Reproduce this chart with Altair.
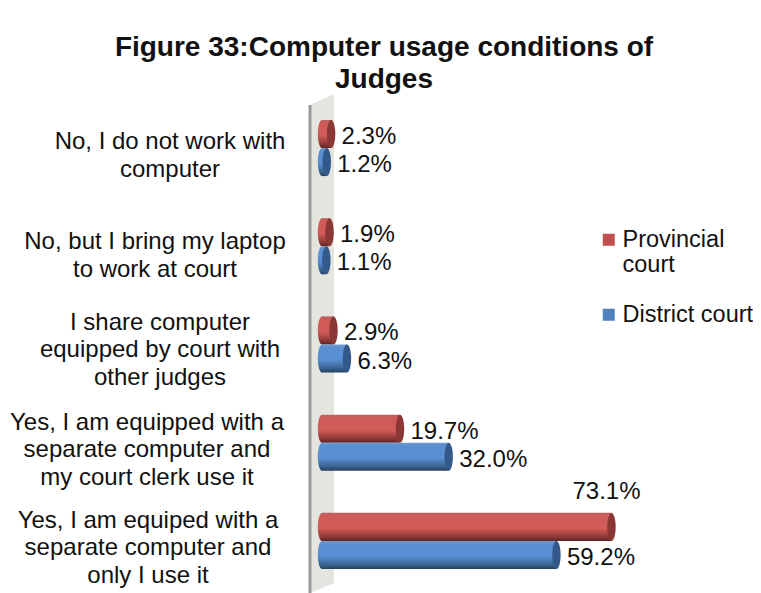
import altair as alt
import pandas as pd

title_lines = ["Figure 33:Computer usage conditions of", "Judges"]
categories = [
    "No, I do not work with|computer",
    "No, but I bring my laptop|to work at court",
    "I share computer|equipped by court with|other judges",
    "Yes, I am equipped with a|separate computer and|my court clerk use it",
    "Yes, I am equiped with a|separate computer and|only I use it",
]
series = ["Provincial court", "District court"]
provincial = [2.3, 1.9, 2.9, 19.7, 73.1]
district = [1.2, 1.1, 6.3, 32.0, 59.2]
wall_x = [-3.03, 3.03]
wall_top = [11, 0]
wall_bottom = [499, 489]

FONT = "Liberation Sans"
rows = []
for i, c in enumerate(categories):
    rows.append({"category": c, "series": series[0], "value": provincial[i]})
    rows.append({"category": c, "series": series[1], "value": district[i]})
df = pd.DataFrame(rows)
df["label"] = df["value"].map(lambda v: f"{v:.1f}%")
df["zero"] = 0
wall_df = pd.DataFrame({"x": wall_x, "top": wall_top, "bottom": wall_bottom})

x_scale = alt.Scale(domain=[-3.03, 82.83], nice=False, zero=False)
y_scale = alt.Scale(domain=categories, paddingInner=0, paddingOuter=0.04, align=0.625)
y_enc = alt.Y("category:N", sort=categories, scale=y_scale, axis=None)
yoff = alt.YOffset("series:N", sort=series, scale=alt.Scale(domain=series, paddingInner=0, paddingOuter=0.75))


def grad(stops):
    return alt.LinearGradient(
        gradient="linear", x1=0, y1=0, x2=0, y2=1,
        stops=[alt.GradientStop(color=c, offset=o) for o, c in stops],
    )


red = grad([(0, "#b9625f"), (0.12, "#cf5a57"), (0.55, "#d25c58"), (0.85, "#8f3a38"), (1, "#5e2422")])
blue = grad([(0, "#6f9bd0"), (0.12, "#5a8fd2"), (0.55, "#588fd3"), (0.85, "#3a628f"), (1, "#25405f")])
caps = {series[0]: "#8a3735", series[1]: "#33598a"}
grads = {series[0]: red, series[1]: blue}
ELL = "M0,-1A0.3,1,0,1,1,0,1A0.3,1,0,1,1,0,-1Z"

X_VAL = alt.X("value:Q", scale=x_scale, axis=None)
X_ZERO = alt.X("zero:Q", scale=x_scale, axis=None)
wall_y = alt.Y("top:Q", scale=alt.Scale(domain=[0, 499], reverse=True, nice=False, zero=False), axis=None)

base = alt.Chart(df)
wall_base = alt.Chart(wall_df)
wall = wall_base.mark_area(color="#e4e5df", orient="vertical").encode(
    x=alt.X("x:Q", scale=x_scale, axis=None), y=wall_y, y2="bottom:Q"
)
edge = wall_base.transform_filter("datum.x < 0").mark_rule(color="#9a9a9a", strokeWidth=3).encode(
    x=alt.X("x:Q", scale=x_scale, axis=None), y=wall_y, y2="bottom:Q"
)

layers = [wall, edge]
for s in series:
    b = base.transform_filter(alt.datum.series == s)
    layers.append(b.mark_point(shape=ELL, size=784, filled=True, opacity=1, color=grads[s], strokeWidth=0).encode(
        x=X_ZERO, y=y_enc, yOffset=yoff))
    layers.append(b.mark_bar(color=grads[s]).encode(
        x=X_VAL, x2="zero:Q", y=y_enc, yOffset=yoff))
    layers.append(b.mark_point(shape=ELL, size=784, filled=True, opacity=1, color=caps[s], strokeWidth=0).encode(
        x=X_VAL, y=y_enc, yOffset=yoff))

near = base.transform_filter("datum.value < 70").mark_text(
    font=FONT, fontSize=24, color="#111111", align="left", baseline="middle", dx=10.5, dy=3
).encode(x=X_VAL, y=y_enc, yOffset=yoff, text="label:N")
far = base.transform_filter("datum.value >= 70").mark_text(
    font=FONT, fontSize=24, color="#111111", align="left", baseline="middle", dx=-39, dy=-35
).encode(x=X_VAL, y=y_enc, yOffset=yoff, text="label:N")

# Category labels: centred text blocks, each block's right edge near the wall
label_centres = dict(zip(categories, [170, 155, 160, 147, 148]))
label_shift = dict(zip(categories, [-14, -14, -33, -33, -35]))
cat_layers = []
for c in categories:
    cat_layers.append(
        base.transform_filter(alt.FieldEqualPredicate(field="category", equal=c))
        .transform_filter(alt.datum.series == series[0])
        .mark_text(font=FONT, fontSize=24, color="#111111", align="center", baseline="middle",
                   lineBreak="|", lineHeight=27.5, dy=label_shift[c])
        .encode(x=alt.value(label_centres[c] - 310), y=y_enc, text="category:N")
    )

legend_layer = base.mark_square(opacity=0, size=144).encode(
    x=X_VAL,
    y=y_enc,
    color=alt.Color(
        "series:N",
        sort=series,
        scale=alt.Scale(domain=series, range=["#c0504d", "#4f81bd"]),
        legend=alt.Legend(
            title=None, orient="none", legendX=287, legendY=134, symbolType="square", symbolSize=144,
            symbolOpacity=1, labelFont=FONT, labelFontSize=23.5, labelColor="#111111", labelLimit=300,
            rowPadding=25, labelOffset=2,
            labelExpr="datum.label == 'Provincial court' ? ['Provincial', 'court'] : datum.label",
        ),
    ),
)

chart = (
    alt.layer(*layers, near, far, *cat_layers, legend_layer)
    .resolve_scale(y="independent")
    .properties(
        width=340,
        height=499,
        autosize=alt.AutoSizeParams(type="none"),
        padding={"left": 302, "top": 86, "right": 103, "bottom": 0},
        background="white",
        title=alt.TitleParams(
            text=title_lines, font=FONT, fontSize=28, fontWeight="bold", color="#111111",
            anchor="middle", frame="group", dx=-96, lineHeight=32, offset=0,
        ),
    )
    .configure_view(stroke=None)
)
chart.save("out.html", embed_options={"renderer": "svg", "actions": False})
